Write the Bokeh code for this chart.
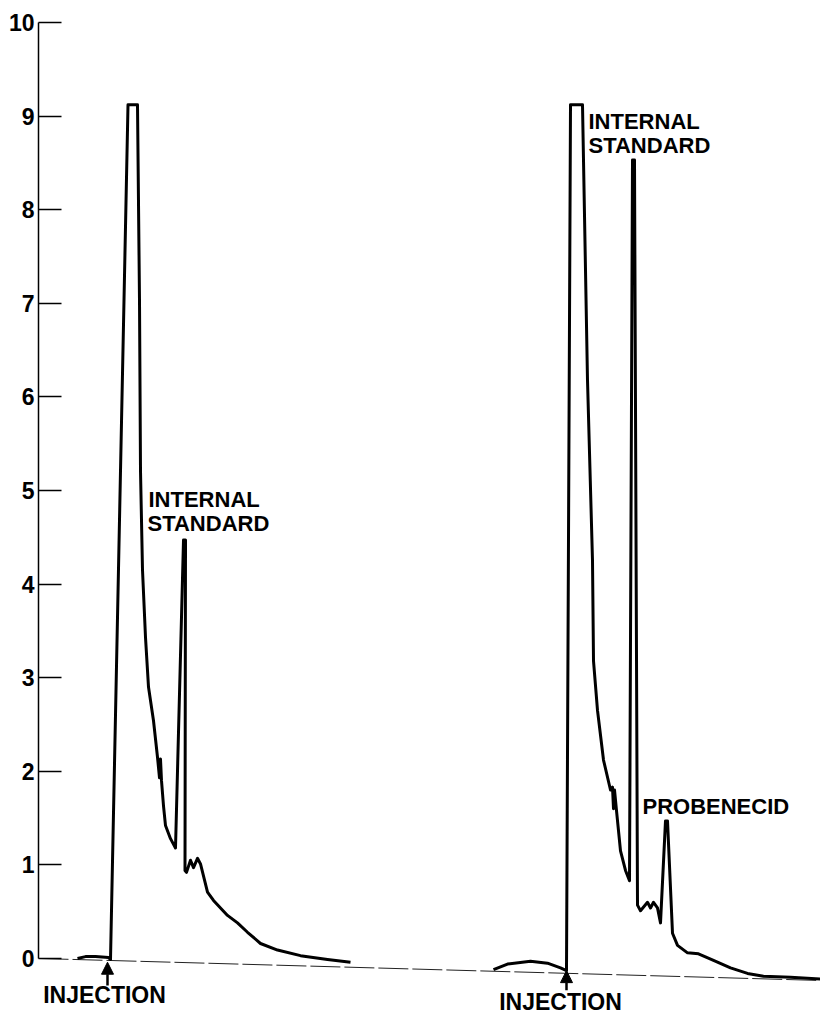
from bokeh.plotting import figure
from bokeh.models import Range1d, FixedTicker, Label, Arrow, NormalHead
from bokeh.embed import file_html
from bokeh.resources import INLINE

# Chromatogram traces: retention position (arbitrary chart units) vs detector response
blank_time = [77, 85, 95, 108, 110, 127.5, 137, 139, 140, 142, 145, 148, 153, 157,
              159, 160, 161, 163, 165, 170, 175, 183, 185, 184.5, 186, 190, 193, 197,
              200, 207, 213, 227, 237, 247, 260, 277, 300, 327, 350]
blank_response = [0.0, 0.02, 0.02, 0.01, -0.01, 9.12, 9.12, 7.03, 5.21, 4.15, 3.43, 2.90,
                  2.54, 2.15, 1.93, 2.13, 1.90, 1.63, 1.42, 1.28, 1.18, 4.47, 4.47, 0.94,
                  0.92, 1.05, 0.97, 1.07, 1.01, 0.71, 0.62, 0.46, 0.38, 0.28, 0.16, 0.09,
                  0.03, -0.01, -0.04]

sample_time = [493, 507, 530, 547, 560, 566, 570, 582, 587, 592, 593, 597, 603, 610,
               612, 613, 614, 616, 620, 625, 629, 632, 634, 637, 640, 647, 650, 653,
               657, 660, 665, 667, 672, 677, 687, 698, 713, 730, 747, 763, 790, 820]
sample_response = [-0.12, -0.06, -0.03, -0.05, -0.10, -0.13, 9.12, 9.12, 6.18, 4.25, 3.18,
                   2.65, 2.12, 1.80, 1.83, 1.60, 1.80, 1.58, 1.15, 0.94, 0.83, 8.53, 8.53,
                   0.57, 0.51, 0.60, 0.54, 0.60, 0.54, 0.38, 1.47, 1.47, 0.27, 0.14, 0.06,
                   0.05, -0.02, -0.10, -0.16, -0.19, -0.20, -0.22]

baseline_time = [38, 820]
baseline_response = [0.0, -0.235]

injection_time = [107, 566]
y_ticks = [0, 1, 2, 3, 4, 5, 6, 7, 8, 9, 10]

FONT = "Liberation Sans"

p = figure(width=820, height=1016, output_backend="svg", toolbar_location=None,
           x_axis_type=None, x_range=Range1d(38, 820), y_range=Range1d(-0.62, 10.0),
           min_border_left=38, min_border_right=0, min_border_top=22, min_border_bottom=0)
p.outline_line_color = None
p.grid.visible = False
p.background_fill_color = "white"
p.border_fill_color = "white"

ax = p.yaxis[0]
ax.ticker = FixedTicker(ticks=y_ticks)
ax.bounds = (0, 10)
ax.major_tick_in = 23
ax.major_tick_out = 0
ax.minor_tick_in = 0
ax.minor_tick_out = 0
ax.major_label_standoff = 4
ax.axis_line_width = 1.5
ax.major_tick_line_width = 1.5
ax.axis_line_color = "black"
ax.major_tick_line_color = "black"
ax.major_label_text_font = FONT
ax.major_label_text_font_style = "bold"
ax.major_label_text_font_size = "23px"
ax.major_label_text_color = "black"

p.line(baseline_time, baseline_response, line_color="#222222", line_width=1,
       line_dash="30 4")
p.line(blank_time, blank_response, line_color="black", line_width=3, line_join="round")
p.line(sample_time, sample_response, line_color="black", line_width=3, line_join="round")

for t, tip, tail in zip(injection_time, [-0.04, -0.13], [-0.29, -0.34]):
    p.add_layout(Arrow(end=NormalHead(size=12, fill_color="black", line_color="black"),
                       x_start=t, y_start=tail, x_end=t, y_end=tip,
                       line_color="black", line_width=2.5))

def lab(x, y, text, align="left", size="22px"):
    p.add_layout(Label(x=x, y=y, text=text, text_align=align, text_baseline="alphabetic",
                       text_font=FONT, text_font_style="bold", text_font_size=size,
                       text_color="black"))

lab(148, 4.90, "INTERNAL")
lab(147, 4.65, "STANDARD")
lab(588, 8.94, "INTERNAL")
lab(588, 8.69, "STANDARD")
lab(642, 1.62, "PROBENECID")
lab(104, -0.39, "INJECTION", align="center", size="23px")
lab(560, -0.465, "INJECTION", align="center", size="23px")

open("out.html", "w").write(file_html(p, INLINE))
